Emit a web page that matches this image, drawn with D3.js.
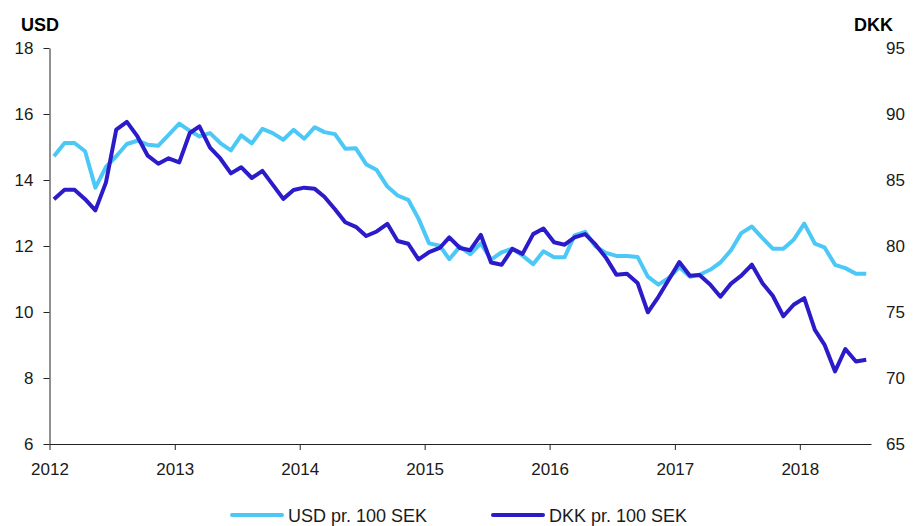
<!DOCTYPE html>
<html>
<head>
<meta charset="utf-8">
<script src="https://cdn.jsdelivr.net/npm/d3@7"></script>
<style>
  body { margin: 0; background: #ffffff; }
  svg { display: block; font-family: "Liberation Sans", Arial, sans-serif; }
</style>
</head>
<body>
<div id="chart"></div>
<script>
// monthly observations, Jan 2012 - Jul 2018
const months = d3.timeMonth.range(new Date(2012, 0, 1), new Date(2018, 7, 1)).map((d) => new Date(d.getFullYear(), d.getMonth(), 14));

const usdValues = [
  14.72, 15.12, 15.12, 14.87, 13.77, 14.40, 14.72, 15.09, 15.19, 15.07, 15.04, 15.37,
  15.71, 15.49, 15.32, 15.42, 15.12, 14.90, 15.35, 15.11, 15.55, 15.42, 15.22, 15.52,
  15.25, 15.60, 15.45, 15.39, 14.95, 14.96, 14.48, 14.30, 13.80, 13.53, 13.40, 12.83,
  12.08, 12.01, 11.60, 11.98, 11.75, 12.08, 11.59, 11.81, 11.92, 11.71, 11.45, 11.84,
  11.66, 11.66, 12.32, 12.43, 11.99, 11.79, 11.70, 11.70, 11.67, 11.07, 10.83, 11.03,
  11.36, 11.07, 11.13, 11.28, 11.50, 11.87, 12.39, 12.59, 12.24, 11.92, 11.92, 12.19,
  12.68, 12.07, 11.96, 11.43, 11.33, 11.16, 11.16,
];

const dkkValues = [
  83.55, 84.27, 84.27, 83.55, 82.70, 84.82, 88.82, 89.40, 88.30, 86.84, 86.23, 86.64,
  86.34, 88.56, 89.06, 87.45, 86.63, 85.50, 85.97, 85.15, 85.69, 84.65, 83.57, 84.24,
  84.42, 84.33, 83.73, 82.78, 81.80, 81.45, 80.76, 81.10, 81.68, 80.38, 80.17, 78.98,
  79.53, 79.85, 80.65, 79.85, 79.68, 80.85, 78.75, 78.58, 79.78, 79.40, 80.90, 81.32,
  80.28, 80.10, 80.65, 80.90, 80.12, 79.10, 77.83, 77.90, 77.20, 74.98, 76.15, 77.45,
  78.78, 77.75, 77.80, 77.08, 76.16, 77.15, 77.75, 78.58, 77.18, 76.23, 74.68, 75.55,
  76.05, 73.65, 72.53, 70.50, 72.20, 71.25, 71.38,
];

const yearTicks = [2012, 2013, 2014, 2015, 2016, 2017, 2018];
const usdTicks = [6, 8, 10, 12, 14, 16, 18];
const dkkTicks = [65, 70, 75, 80, 85, 90, 95];
const seriesNames = ["USD pr. 100 SEK", "DKK pr. 100 SEK"];

const width = 913;
const height = 526;
const margin = { top: 48, right: 42, bottom: 82, left: 49.5 };
const lightBlue = "#4cc8f7";
const darkBlue = "#2c1bc9";

const svg = d3
  .select("#chart")
  .append("svg")
  .attr("width", width)
  .attr("height", height);

const x = d3
  .scaleTime()
  .domain([new Date(2012, 0, 1), new Date(2018, 6, 28)])
  .range([margin.left, width - margin.right]);

const yLeft = d3
  .scaleLinear()
  .domain([6, 18])
  .range([height - margin.bottom, margin.top]);

const yRight = d3
  .scaleLinear()
  .domain([65, 95])
  .range([height - margin.bottom, margin.top]);

// Left axis
const leftAxis = svg
  .append("g")
  .attr("transform", `translate(${margin.left},0)`)
  .call(d3.axisLeft(yLeft).tickValues(usdTicks).tickSize(6).tickPadding(10).tickSizeOuter(0));

// Right axis (labels only)
const rightAxis = svg
  .append("g")
  .attr("transform", `translate(${width - margin.right},0)`)
  .call(d3.axisRight(yRight).tickValues(dkkTicks).tickSize(0).tickPadding(15));
rightAxis.select(".domain").remove();

// Bottom axis
const bottomAxis = svg
  .append("g")
  .attr("transform", `translate(0,${height - margin.bottom})`)
  .call(
    d3
      .axisBottom(x)
      .tickValues(yearTicks.map((y) => new Date(y, 0, 1)))
      .tickFormat(d3.timeFormat("%Y"))
      .tickSize(6)
      .tickPadding(13)
      .tickSizeOuter(0)
  );

[leftAxis, rightAxis, bottomAxis].forEach((g) => {
  g.selectAll(".domain").attr("stroke", "#222").attr("stroke-width", 1);
  g.selectAll(".tick line").attr("stroke", "#222");
  g.selectAll(".tick text")
    .attr("fill", "#1a1a1a")
    .style("font-size", "17px");
});

// Axis titles
svg
  .append("text")
  .attr("x", 21)
  .attr("y", 31)
  .attr("fill", "#000")
  .style("font-size", "18px")
  .style("font-weight", "bold")
  .text("USD");

svg
  .append("text")
  .attr("x", 893)
  .attr("y", 31)
  .attr("text-anchor", "end")
  .attr("fill", "#000")
  .style("font-size", "18px")
  .style("font-weight", "bold")
  .text("DKK");

// Lines
const usdLine = d3
  .line()
  .x((d, i) => x(months[i]))
  .y((d) => yLeft(d));

const dkkLine = d3
  .line()
  .x((d, i) => x(months[i]))
  .y((d) => yRight(d));

svg
  .append("path")
  .datum(usdValues)
  .attr("d", usdLine)
  .attr("fill", "none")
  .attr("stroke", lightBlue)
  .attr("stroke-width", 4)
  .attr("stroke-linejoin", "round");

svg
  .append("path")
  .datum(dkkValues)
  .attr("d", dkkLine)
  .attr("fill", "none")
  .attr("stroke", darkBlue)
  .attr("stroke-width", 4)
  .attr("stroke-linejoin", "round");

// Legend
const legendItems = [
  { label: seriesNames[0], color: lightBlue, x: 232 },
  { label: seriesNames[1], color: darkBlue, x: 493 },
];

const legend = svg
  .selectAll(".legend")
  .data(legendItems)
  .enter()
  .append("g")
  .attr("class", "legend")
  .attr("transform", (d) => `translate(${d.x},515)`);

legend
  .append("line")
  .attr("x1", 0)
  .attr("x2", 50)
  .attr("stroke", (d) => d.color)
  .attr("stroke-width", 4)
  .attr("stroke-linecap", "round");

legend
  .append("text")
  .attr("x", 56)
  .attr("y", 6.5)
  .attr("fill", "#1a1a1a")
  .style("font-size", "18px")
  .text((d) => d.label);
</script>
</body>
</html>
